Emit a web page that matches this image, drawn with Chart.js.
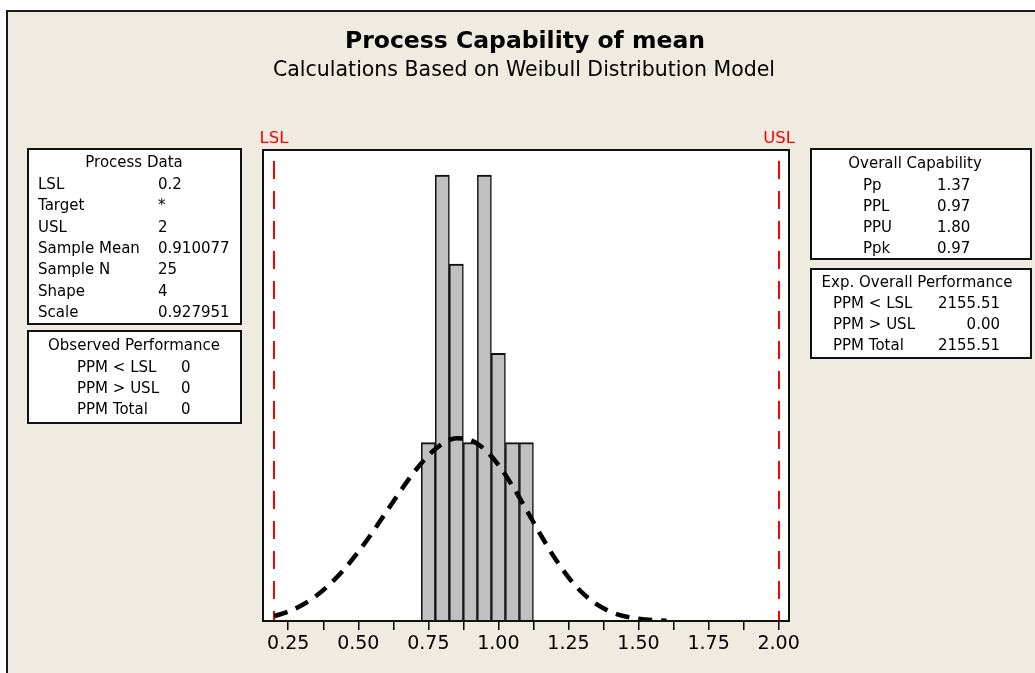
<!DOCTYPE html>
<html><head><meta charset="utf-8">
<script src="https://cdn.jsdelivr.net/npm/chart.js@4.4.0/dist/chart.umd.min.js"></script>
<style>html,body{margin:0;padding:0;background:#fff;overflow:hidden}#wrap{width:1035px;height:673px;position:relative}canvas{display:block}</style>
</head><body><div id="wrap"><canvas id="c" width="1035" height="673"></canvas></div>
<script>
// ---- data ----
const binCenters = [0.75, 0.80, 0.85, 0.90, 0.95, 1.00, 1.05, 1.10];
const binCounts = [2, 5, 4, 2, 5, 3, 2, 2];
const curveX = [0.20,0.25,0.30,0.35,0.40,0.45,0.50,0.55,0.60,0.65,0.70,0.75,0.80,0.85,0.90,0.95,1.00,1.05,1.10,1.15,1.20,1.25,1.30,1.35,1.40,1.45,1.50,1.55,1.60];
const curveY = [0.054,0.105,0.180,0.283,0.417,0.581,0.775,0.991,1.223,1.455,1.673,1.856,1.987,2.048,2.029,1.928,1.750,1.515,1.246,0.970,0.711,0.490,0.315,0.188,0.104,0.053,0.025,0.010,0.004];
const specNames = ['LSL', 'USL'];
const specValues = [0.2, 2];
const tickValues = [0.25,0.375,0.5,0.625,0.75,0.875,1.0,1.125,1.25,1.375,1.5,1.625,1.75,1.875,2.0];
const tickLabels = ['0.25','','0.50','','0.75','','1.00','','1.25','','1.50','','1.75','','2.00'];
const titleText = 'Process Capability of mean';
const subtitleText = 'Calculations Based on Weibull Distribution Model';
const processDataTitle = 'Process Data';
const processDataLabels = ['LSL','Target','USL','Sample Mean','Sample N','Shape','Scale'];
const processDataValues = ['0.2','*','2','0.910077','25','4','0.927951'];
const observedTitle = 'Observed Performance';
const observedLabels = ['PPM < LSL','PPM > USL','PPM Total'];
const observedValues = ['0','0','0'];
const capabilityTitle = 'Overall Capability';
const capabilityLabels = ['Pp','PPL','PPU','Ppk'];
const capabilityValues = ['1.37','0.97','1.80','0.97'];
const expTitle = 'Exp. Overall Performance';
const expLabels = ['PPM < LSL','PPM > USL','PPM Total'];
const expValues = ['2155.51','0.00','2155.51'];

// ---- styles ----
const BEIGE = 'rgb(239,235,224)';
const PANEL_FONT = '15px "DejaVu Sans"';

function box(ctx, x, y, w, h) {
  ctx.save();
  ctx.fillStyle = '#fff';
  ctx.fillRect(x, y, w, h);
  ctx.strokeStyle = '#111';
  ctx.lineWidth = 2;
  ctx.strokeRect(x, y, w, h);
  ctx.restore();
}
function txt(ctx, s, x, y, align, font, color) {
  ctx.save();
  ctx.font = font || PANEL_FONT;
  ctx.fillStyle = color || '#000';
  ctx.textAlign = align || 'left';
  ctx.textBaseline = 'alphabetic';
  ctx.fillText(s, x, y);
  ctx.restore();
}

const decor = {
  id: 'decor',
  beforeDraw(chart) {
    const ctx = chart.ctx, a = chart.chartArea;
    ctx.save();
    ctx.fillStyle = '#fff';
    ctx.fillRect(0, 0, chart.width, chart.height);
    ctx.fillStyle = BEIGE;
    ctx.fillRect(7, 11, chart.width - 7, chart.height - 11);
    ctx.fillStyle = '#1a1a1a';
    ctx.fillRect(6, 10, chart.width - 6, 2);
    ctx.fillRect(6, 10, 2, chart.height - 10);
    ctx.fillStyle = '#fff';
    ctx.fillRect(a.left, a.top, a.right - a.left, a.bottom - a.top);
    ctx.restore();
  },
  beforeDatasetsDraw(chart) {
    const ctx = chart.ctx, a = chart.chartArea, xs = chart.scales.x;
    ctx.save();
    ctx.strokeStyle = '#ff0000';
    ctx.lineWidth = 2;
    ctx.setLineDash([18, 12]);
    specValues.forEach((v, i) => {
      const px = Math.round(xs.getPixelForValue(v));
      ctx.beginPath();
      ctx.moveTo(px, a.top + 11);
      ctx.lineTo(px, a.bottom);
      ctx.stroke();
      txt(ctx, specNames[i], px, a.top - 7, 'center', '16.5px "DejaVu Sans"', '#ff0000');
    });
    ctx.restore();
  },
  afterDraw(chart) {
    const ctx = chart.ctx, a = chart.chartArea;
    // plot frame
    ctx.save();
    ctx.strokeStyle = '#111';
    ctx.lineWidth = 2;
    ctx.strokeRect(a.left, a.top, a.right - a.left, a.bottom - a.top);
    ctx.restore();
    // titles
    txt(ctx, titleText, 525, 48, 'center', 'bold 23.5px "DejaVu Sans"');
    txt(ctx, subtitleText, 524, 76, 'center', '20.5px "DejaVu Sans"');
    // Process Data
    box(ctx, 28, 149, 213, 175);
    txt(ctx, processDataTitle, 134, 166.5, 'center');
    processDataLabels.forEach((l, i) => {
      const y = 188.8 + i * 21.4;
      txt(ctx, l, 38, y);
      txt(ctx, processDataValues[i], 158, y);
    });
    // Observed Performance
    box(ctx, 28, 331, 213, 92);
    txt(ctx, observedTitle, 134, 349.5, 'center');
    observedLabels.forEach((l, i) => {
      const y = 372 + i * 21;
      txt(ctx, l, 77, y);
      txt(ctx, observedValues[i], 181, y);
    });
    // Overall Capability
    box(ctx, 811, 149, 220, 110);
    txt(ctx, capabilityTitle, 915, 168, 'center');
    capabilityLabels.forEach((l, i) => {
      const y = 189.8 + i * 21.2;
      txt(ctx, l, 863, y);
      txt(ctx, capabilityValues[i], 937, y);
    });
    // Exp. Overall Performance
    box(ctx, 811, 269, 220, 89);
    txt(ctx, expTitle, 917, 287, 'center');
    expLabels.forEach((l, i) => {
      const y = 308 + i * 21;
      txt(ctx, l, 833, y);
      txt(ctx, expValues[i], 1000, y, 'right');
    });
  }
};

new Chart(document.getElementById('c'), {
  type: 'bar',
  data: {
    datasets: [
      {
        type: 'line',
        order: 0,
        data: curveX.map((x, i) => ({ x: x, y: curveY[i] })),
        borderColor: '#000',
        borderWidth: 4.5,
        borderDash: [14, 9],
        borderCapStyle: 'butt',
        pointRadius: 0,
        fill: false,
        cubicInterpolationMode: 'monotone'
      },
      {
        type: 'bar',
        order: 1,
        data: binCenters.map((x, i) => ({ x: x, y: binCounts[i] })),
        backgroundColor: '#c0c0c0',
        borderColor: '#111',
        borderWidth: { top: 2, left: 1.5, right: 1.5, bottom: 0 },
        borderSkipped: false,
        barPercentage: 1,
        categoryPercentage: 1
      }
    ]
  },
  options: {
    responsive: false,
    animation: false,
    devicePixelRatio: 1,
    layout: { padding: { left: 263, right: 246, top: 150, bottom: 22 } },
    plugins: { legend: { display: false }, tooltip: { enabled: false } },
    scales: {
      x: {
        type: 'linear',
        min: 0.16,
        max: 2.037,
        offset: false,
        afterBuildTicks: s => { s.ticks = tickValues.map(v => ({ value: v })); },
        afterFit: s => { s.height = 30; },
        ticks: {
          autoSkip: false, maxRotation: 0, minRotation: 0, padding: 3, color: '#000',
          font: { family: 'DejaVu Sans', size: 19 },
          callback: (v, i) => tickLabels[i]
        },
        grid: { offset: false, drawOnChartArea: false, drawTicks: true, tickLength: 9, color: '#000', lineWidth: 1.5 },
        border: { display: true, color: '#000', width: 2 }
      },
      y: { display: false, min: 0, max: 5.28 }
    }
  },
  plugins: [decor]
});
</script>
</body></html>
